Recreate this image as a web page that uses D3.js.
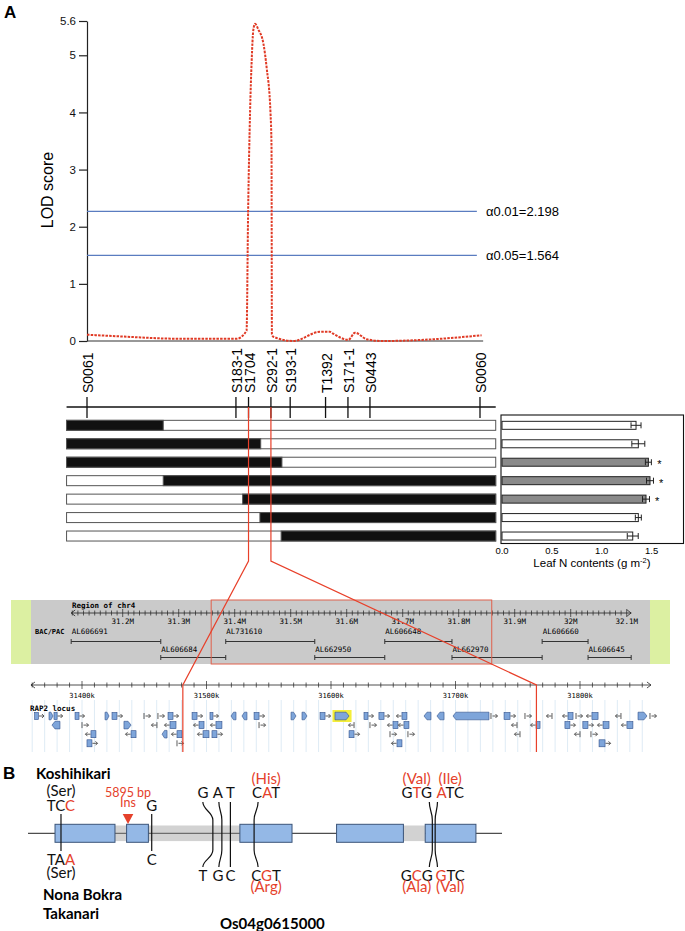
<!DOCTYPE html>
<html>
<head>
<meta charset="utf-8">
<script src="https://cdn.jsdelivr.net/npm/d3@7"></script>
<style>
  body { margin: 0; background: #fff; }
  svg { display: block; }
  .sans { font-family: "Liberation Sans", Arial, sans-serif; }
  .mono { font-family: "DejaVu Sans Mono", monospace; }
  .cal { font-family: Lato, "Open Sans", sans-serif; }
</style>
</head>
<body>
<svg width="685" height="931"></svg>
<script>
// ---- panel A : LOD profile ----
const lodTicks = [0, 1, 2, 3, 4, 5, 5.6]
const markerNames = ['S0061', 'S183-1', 'S1704', 'S292-1', 'S193-1', 'T1392', 'S171-1', 'S0443', 'S0060']
const markerPos = [0, 37.9, 41.1, 46.8, 51.7, 60.7, 66.4, 72.0, 100]
const lodPos = [0, 10.1, 22.8, 38.1, 40.6, 41.0, 41.5, 41.9, 42.3, 42.75, 43.6, 44.9, 45.7, 46.7, 46.95, 47.05, 47.4, 52.5, 59.3, 61.8, 62.6, 66.5, 68.2, 71.2, 75.3, 88.0, 100.4]
const lodVal = [0.11, 0.075, 0.04, 0.04, 0.18, 2.28, 4.03, 4.9, 5.43, 5.55, 5.45, 5.2, 4.79, 3.98, 3.4, 0.12, 0.075, 0.0, 0.16, 0.16, 0.13, 0.02, 0.145, 0.03, 0.0, 0.03, 0.1]
const thrVal = [2.27, 1.50]
const thrText = ['α0.01=2.198', 'α0.05=1.564']

// ---- graphical genotypes and leaf N ----
const leftBlack = [true, true, true, false, false, false, false]
const breakPos = [19.4, 44.2, 49.6, 19.4, 39.6, 44.0, 49.4]
const chromSpan = [-5.2, 104]
const leafN = [1.344, 1.367, 1.468, 1.484, 1.444, 1.367, 1.311]
const leafErr = [0.05, 0.065, 0.03, 0.035, 0.035, 0.03, 0.055]
const leafSig = [false, false, true, true, true, false, false]
const leafTicks = [0, 0.5, 1.0, 1.5]

// ---- chr4 region browser ----
const chrTicks = [31.2, 31.3, 31.4, 31.5, 31.6, 31.7, 31.8, 31.9, 32.0, 32.1]
const chrTickLabels = ['31.2M', '31.3M', '31.4M', '31.5M', '31.6M', '31.7M', '31.8M', '31.9M', '32M', '32.1M']
const chrSpan = [31.108, 32.108]
const bacNames = ['AL606691', 'AL606684', 'AL731610', 'AL662950', 'AL606648', 'AL662970', 'AL606660', 'AL606645']
const bacStart = [31.108, 31.268, 31.384, 31.543, 31.668, 31.788, 31.949, 32.031]
const bacEnd = [31.268, 31.384, 31.543, 31.668, 31.788, 31.949, 32.031, 32.108]
const bacRow = [0, 1, 0, 1, 0, 1, 0, 1]
const zoomBox = [31.358, 31.859]

// ---- RAP2 locus (kb) ----
const rapTicks = [31400, 31500, 31600, 31700, 31800]
const rapTickLabels = ['31400k', '31500k', '31600k', '31700k', '31800k']
const rapSpan = [31359, 31857]
const highlightGene = [31603.2, 31614.5]
// [start, end, row, strand, kind]  B=box, A=tiny, T=pointed
const rapGenes = [
  [31362, 31365, 0, 1, 'B'], [31373.5, 31376.7, 0, 1, 'T'], [31377.5, 31380, 0, 1, 'B'], [31394.4, 31397.6, 0, 1, 'B'],
  [31418.5, 31421.7, 0, 1, 'T'], [31424.1, 31428.1, 0, 1, 'B'], [31449.8, 31450.6, 0, 1, 'A'], [31461, 31461.8, 0, 1, 'A'],
  [31469.1, 31473.1, 0, 1, 'B'], [31488.4, 31492.4, 0, 1, 'B'], [31502.8, 31505.2, 0, 1, 'B'], [31519.7, 31523.7, 0, -1, 'T'],
  [31528.5, 31532.5, 0, -1, 'T'], [31538.2, 31542.2, 0, 1, 'B'], [31567.9, 31571.9, 0, 1, 'T'], [31576.7, 31580.7, 0, 1, 'T'],
  [31591.2, 31595.2, 0, 1, 'B'], [31603.2, 31614.5, 0, 1, 'T'], [31626.5, 31629.7, 0, 1, 'B'], [31638.5, 31642.6, 0, 1, 'B'],
  [31657, 31661, 0, -1, 'B'], [31674.7, 31680.3, 0, -1, 'T'], [31685.1, 31690.8, 0, -1, 'T'], [31698, 31726.9, 0, -1, 'T'],
  [31728.5, 31729.3, 0, 1, 'A'], [31739, 31743.8, 0, 1, 'B'], [31755.8, 31756.6, 0, 1, 'A'], [31777.5, 31778.3, 0, -1, 'A'],
  [31790.4, 31794.4, 0, -1, 'B'], [31796.8, 31797.6, 0, 1, 'A'], [31809.6, 31814.5, 0, -1, 'B'], [31832.9, 31833.7, 0, -1, 'A'],
  [31846.6, 31853.8, 0, 1, 'T'], [31856.2, 31857, 0, 1, 'A'],
  [31375.9, 31382.3, 1, -1, 'T'], [31400, 31400.8, 1, 1, 'A'], [31433.7, 31439.4, 1, 1, 'T'], [31460.2, 31461, 1, -1, 'A'],
  [31470.7, 31475.5, 1, -1, 'B'], [31494, 31498, 1, -1, 'B'], [31507.6, 31512.4, 1, -1, 'B'], [31542.2, 31543, 1, 1, 'A'],
  [31618.5, 31619.3, 1, -1, 'A'], [31631.3, 31632.1, 1, 1, 'A'], [31649.8, 31653.8, 1, -1, 'B'], [31658.6, 31662.6, 1, -1, 'B'],
  [31749.4, 31750.2, 1, -1, 'A'], [31764.7, 31767.9, 1, -1, 'B'], [31787.9, 31791.9, 1, 1, 'B'], [31802.3, 31806.4, 1, 1, 'B'],
  [31818.5, 31823.3, 1, -1, 'B'], [31837.7, 31842.5, 1, -1, 'B'],
  [31407.2, 31411.2, 2, -1, 'B'], [31439.4, 31443.4, 2, -1, 'B'], [31464.3, 31468.3, 2, -1, 'T'], [31476.3, 31480.3, 2, -1, 'B'],
  [31497.2, 31502, 2, -1, 'B'], [31504.4, 31508.4, 2, 1, 'B'], [31614.5, 31618.5, 2, 1, 'B'], [31647.4, 31648.2, 2, 1, 'A'],
  [31661.8, 31662.6, 2, 1, 'A'], [31751.8, 31752.6, 2, -1, 'A'], [31800, 31800.8, 2, -1, 'A'], [31808.8, 31809.6, 2, 1, 'A'],
  [31404, 31408, 3, 1, 'B'], [31476.3, 31477.1, 3, 1, 'A'], [31653, 31657, 3, -1, 'B'], [31815.3, 31820.1, 3, 1, 'B']
]
const redLinkMarker = ['S1704', 'S292-1']
const redLinkKb = [31481, 31765]

// ---- panel B : gene model (relative units 0-100) ----
const exonStart = [5.7, 20.8, 44.7, 65.1, 83.8]
const exonEnd = [18.35, 25.4, 55.7, 79.2, 94.5]
const grayStart = [18.35, 79.2]
const grayEnd = [44.7, 83.8]
const insPos = 21.1
const snpPos = [6.96, 26.1, 39.0, 40.9, 42.7, 47.7, 85.3, 85.9]
const snpTop = ['TCC', 'G', 'G', 'A', 'T', 'CAT', 'GTG', 'ATC']
const snpBot = ['TAA', 'C', 'T', 'G', 'C', 'CGT', 'GCG', 'GTC']
const snpRed = [2, -1, -1, -1, -1, 1, 1, 0]
const aaTop = ['(Ser)', '', '', '', '', '(His)', '(Val)', '(Ile)']
const aaBot = ['(Ser)', '', '', '', '', '(Arg)', '(Ala)', '(Val)']

// layout helpers for panel B text
const snpNear = [true, true, false, false, false, false, false, false]
const snpTextDx = [0, 0, -10, -4, 0, 12, -15.6, 15]
const snpBendDx = [0, 0, -10, -3, 0, 4, -3, 2.3]

const red = '#e5412b'
const svg = d3.select('svg')

// ================= LOD plot =================
const xMap = d3.scaleLinear().domain([0, 100]).range([87, 480])
const yLod = d3.scaleLinear().domain([0, 5.6]).range([341, 21])

const yAx = svg.append('g')
  .attr('transform', 'translate(87,0)')
  .call(d3.axisLeft(yLod).tickValues(lodTicks).tickFormat(d => String(d)).tickSize(8).tickSizeOuter(0))
yAx.selectAll('text').attr('class', 'sans').attr('font-size', 11.5).attr('fill', '#111')
yAx.selectAll('line, path').attr('stroke', '#222').attr('stroke-width', 1.2)

svg.append('line')
  .attr('x1', xMap(0)).attr('x2', xMap(100.8))
  .attr('y1', yLod(0)).attr('y2', yLod(0))
  .attr('stroke', '#333').attr('stroke-width', 1.2)

svg.append('text')
  .attr('class', 'sans')
  .attr('transform', 'translate(53,190) rotate(-90)')
  .attr('text-anchor', 'middle')
  .attr('font-size', 16)
  .text('LOD score')

thrVal.forEach((v, i) => {
  svg.append('line')
    .attr('x1', xMap(0)).attr('x2', xMap(99.2))
    .attr('y1', yLod(v)).attr('y2', yLod(v))
    .attr('stroke', '#5a7cc0').attr('stroke-width', 1.3)
  svg.append('text')
    .attr('class', 'sans')
    .attr('x', 486).attr('y', yLod(v) + 4.5)
    .attr('font-size', 13)
    .text(thrText[i])
})

const lodLine = d3.line()
  .x(d => xMap(d[0]))
  .y(d => yLod(d[1]))
  .curve(d3.curveMonotoneX)

svg.append('path')
  .datum(lodPos.map((p, i) => [p, lodVal[i]]))
  .attr('d', lodLine)
  .attr('fill', 'none')
  .attr('stroke', '#e03a25')
  .attr('stroke-width', 2)
  .attr('stroke-dasharray', '2.5,1.2')

// marker labels + map line
markerNames.forEach((m, i) => {
  svg.append('text')
    .attr('class', 'sans')
    .attr('transform', `translate(${xMap(markerPos[i]) + 6},393) rotate(-90)`)
    .attr('font-size', 14)
    .text(m)
  svg.append('line')
    .attr('x1', xMap(markerPos[i])).attr('x2', xMap(markerPos[i]))
    .attr('y1', 397).attr('y2', 418)
    .attr('stroke', '#111').attr('stroke-width', 1.3)
})
svg.append('line')
  .attr('x1', xMap(chromSpan[0])).attr('x2', xMap(chromSpan[1]))
  .attr('y1', 407).attr('y2', 407)
  .attr('stroke', '#111').attr('stroke-width', 1.6)

// graphical genotypes
const yRow = d3.scaleBand().domain(d3.range(7)).range([416.1, 545.25]).paddingInner(0.458).paddingOuter(0.229)

const rows = svg.selectAll('g.geno')
  .data(breakPos)
  .enter()
  .append('g')
  .attr('class', 'geno')

rows.append('rect')
  .attr('x', xMap(chromSpan[0]))
  .attr('y', (d, i) => yRow(i))
  .attr('width', xMap(chromSpan[1]) - xMap(chromSpan[0]))
  .attr('height', yRow.bandwidth())
  .attr('fill', '#fff')
  .attr('stroke', '#555')
  .attr('stroke-width', 1)

rows.append('rect')
  .attr('x', (d, i) => leftBlack[i] ? xMap(chromSpan[0]) : xMap(d))
  .attr('y', (d, i) => yRow(i))
  .attr('width', (d, i) => leftBlack[i] ? xMap(d) - xMap(chromSpan[0]) : xMap(chromSpan[1]) - xMap(d))
  .attr('height', yRow.bandwidth())
  .attr('fill', '#111')
  .attr('stroke', '#555')
  .attr('stroke-width', 1)

// leaf N bar chart
const xLeaf = d3.scaleLinear().domain([0, 1.82]).range([502, 683.5])
svg.append('rect')
  .attr('x', 501).attr('y', 415)
  .attr('width', 182.5).attr('height', 128.5)
  .attr('fill', 'none').attr('stroke', '#111').attr('stroke-width', 1.1)

const bars = svg.selectAll('g.leaf')
  .data(leafN)
  .enter()
  .append('g')
  .attr('class', 'leaf')
  .attr('transform', (d, i) => `translate(0, ${yRow(i) + 1})`)

bars.append('rect')
  .attr('x', xLeaf(0))
  .attr('y', 0)
  .attr('height', 8)
  .attr('width', d => xLeaf(d) - xLeaf(0))
  .attr('fill', (d, i) => leafSig[i] ? '#8a8a8a' : '#fff')
  .attr('stroke', '#222')
  .attr('stroke-width', 1)

bars.append('line')
  .attr('x1', (d, i) => xLeaf(d - leafErr[i]))
  .attr('x2', (d, i) => xLeaf(d + leafErr[i]))
  .attr('y1', 4).attr('y2', 4)
  .attr('stroke', '#222').attr('stroke-width', 1)
bars.append('path')
  .attr('d', (d, i) => {
    const a = xLeaf(d - leafErr[i]), b = xLeaf(d + leafErr[i])
    return `M${a},1V7M${b},1V7`
  })
  .attr('stroke', '#222').attr('stroke-width', 1)

bars.filter((d, i) => leafSig[i])
  .append('text')
  .attr('class', 'sans')
  .attr('x', (d, i) => xLeaf(d + 0.09))
  .attr('y', 10)
  .attr('font-size', 11)
  .text('*')

leafTicks.forEach(t => {
  svg.append('text')
    .attr('class', 'sans')
    .attr('x', xLeaf(t)).attr('y', 554)
    .attr('text-anchor', 'middle')
    .attr('font-size', 9.5)
    .text(d3.format('.1f')(t))
})
const lt = svg.append('text')
  .attr('class', 'sans')
  .attr('x', 592).attr('y', 567)
  .attr('text-anchor', 'middle')
  .attr('font-size', 11.5)
lt.append('tspan').text('Leaf N contents (g m')
lt.append('tspan').attr('dy', -4).attr('font-size', 7.5).text('-2')
lt.append('tspan').attr('dy', 4).text(')')

// ================= chr4 browser =================
const xChr = d3.scaleLinear().domain([31.2, 32.1]).range([122.7, 626.7])
svg.append('rect').attr('x', 11).attr('y', 600).attr('width', 659).attr('height', 64).attr('fill', '#dcf0a2')
svg.append('rect').attr('x', 31).attr('y', 600).attr('width', 619).attr('height', 64).attr('fill', '#cacaca')

svg.append('text').attr('class', 'mono').attr('x', 72).attr('y', 607.5)
  .attr('font-size', 7.5).attr('font-weight', 'bold').text('Region of chr4')

function ruler(scale, span, y, minor, major) {
  const g = svg.append('g')
  g.append('line').attr('x1', scale(span[0])).attr('x2', scale(span[1]))
    .attr('y1', y).attr('y2', y).attr('stroke', '#222').attr('stroke-width', 0.8)
  g.append('path')
    .attr('d', `M${scale(span[0]) + 4},${y - 3}L${scale(span[0])},${y}L${scale(span[0]) + 4},${y + 3}` +
      `M${scale(span[1]) - 4},${y - 3}L${scale(span[1])},${y}L${scale(span[1]) - 4},${y + 3}`)
    .attr('fill', 'none').attr('stroke', '#222').attr('stroke-width', 0.8)
  minor.forEach(v => {
    const isMajor = major.some(m => Math.abs(m - v) < 1e-6)
    g.append('line').attr('x1', scale(v)).attr('x2', scale(v))
      .attr('y1', y - (isMajor ? 4 : 2.5)).attr('y2', y + (isMajor ? 4 : 2.5))
      .attr('stroke', '#222').attr('stroke-width', 0.7)
  })
  return g
}

ruler(xChr, chrSpan, 613, d3.range(3111, 3211).map(d => d / 100), chrTicks)
chrTicks.forEach((t, i) => {
  svg.append('text').attr('class', 'mono').attr('x', xChr(t)).attr('y', 624)
    .attr('text-anchor', 'middle').attr('font-size', 7.5).text(chrTickLabels[i])
})

svg.append('text').attr('class', 'mono').attr('x', 35).attr('y', 634)
  .attr('font-size', 7).attr('font-weight', 'bold').text('BAC/PAC')

const bacLineY = [641.5, 657.5]
const bacTextY = [634, 651.5]
bacNames.forEach((n, i) => {
  const y = bacLineY[bacRow[i]]
  svg.append('text').attr('class', 'mono').attr('x', xChr(bacStart[i]) + 0.5).attr('y', bacTextY[bacRow[i]])
    .attr('font-size', 7.5).text(n)
  svg.append('path')
    .attr('d', `M${xChr(bacStart[i])},${y}H${xChr(bacEnd[i])}M${xChr(bacStart[i])},${y - 2.5}V${y + 2.5}M${xChr(bacEnd[i])},${y - 2.5}V${y + 2.5}`)
    .attr('stroke', '#333').attr('stroke-width', 1)
})

svg.append('rect')
  .attr('x', xChr(zoomBox[0])).attr('y', 600)
  .attr('width', xChr(zoomBox[1]) - xChr(zoomBox[0])).attr('height', 64)
  .attr('fill', 'none').attr('stroke', '#e0604c').attr('stroke-width', 1)

// ================= RAP2 locus =================
const xRap = d3.scaleLinear().domain([31400, 31800]).range([82, 580])
const rapMinor = d3.range(31360, 31857, 10)
rapMinor.forEach(v => {
  svg.append('line').attr('x1', xRap(v)).attr('x2', xRap(v)).attr('y1', 700).attr('y2', 752)
    .attr('stroke', '#d6e6f3').attr('stroke-width', 0.8)
})
ruler(xRap, rapSpan, 685, rapMinor, rapTicks)
rapTicks.forEach((t, i) => {
  svg.append('text').attr('class', 'mono').attr('x', xRap(t)).attr('y', 698)
    .attr('text-anchor', 'middle').attr('font-size', 7).text(rapTickLabels[i])
})
svg.append('text').attr('class', 'mono').attr('x', 30).attr('y', 711)
  .attr('font-size', 7.5).attr('font-weight', 'bold').text('RAP2 locus')

const rowY = r => 716 + r * 9.1
svg.append('rect')
  .attr('x', xRap(highlightGene[0]) - 2.5).attr('y', rowY(0) - 6)
  .attr('width', xRap(highlightGene[1]) - xRap(highlightGene[0]) + 5).attr('height', 12)
  .attr('fill', '#f4ee3a')

const geneFill = '#7ea5da', geneStroke = '#2f4f8a'
rapGenes.forEach(([s, e, r, st, k]) => {
  const cy = rowY(r), x0 = xRap(s), x1 = Math.max(xRap(e), x0 + 1)
  if (k === 'T') {
    const h = 3.8, tip = Math.min(3, (x1 - x0) * 0.5)
    const pts = st > 0
      ? [[x0, cy - h], [x1 - tip, cy - h], [x1, cy], [x1 - tip, cy + h], [x0, cy + h]]
      : [[x1, cy - h], [x0 + tip, cy - h], [x0, cy], [x0 + tip, cy + h], [x1, cy + h]]
    svg.append('path').attr('d', 'M' + pts.join('L') + 'Z')
      .attr('fill', geneFill).attr('stroke', geneStroke).attr('stroke-width', 0.6)
    return
  }
  if (k === 'B') {
    svg.append('rect').attr('x', x0).attr('y', cy - 3.5).attr('width', x1 - x0).attr('height', 7)
      .attr('fill', geneFill).attr('stroke', geneStroke).attr('stroke-width', 0.6)
  } else {
    svg.append('line').attr('x1', x0).attr('x2', x0).attr('y1', cy - 3).attr('y2', cy + 3)
      .attr('stroke', '#333').attr('stroke-width', 0.8)
  }
  const a = st > 0 ? x1 + 0.5 : x0 - 0.5
  const b = st > 0 ? a + 5 : a - 5
  const c = st > 0 ? b - 2 : b + 2
  svg.append('path').attr('d', `M${a},${cy}L${b},${cy}M${c},${cy - 2}L${b},${cy}L${c},${cy + 2}`)
    .attr('fill', 'none').attr('stroke', '#333').attr('stroke-width', 0.8)
})

// red connector lines
redLinkMarker.forEach((m, i) => {
  const xm = xMap(markerPos[markerNames.indexOf(m)])
  const xr = xRap(redLinkKb[i])
  svg.append('path')
    .attr('d', `M${xm},407L${xm},561L${xr},685L${xr},752`)
    .attr('fill', 'none').attr('stroke', '#e8402a').attr('stroke-width', 1.2)
})

// ================= panel B =================
const xGene = d3.scaleLinear().domain([0, 100]).range([28, 502])
const gy = 833.3

svg.append('line').attr('x1', xGene(0)).attr('x2', xGene(100)).attr('y1', gy).attr('y2', gy)
  .attr('stroke', '#222').attr('stroke-width', 1)
grayStart.forEach((s, i) => {
  svg.append('rect').attr('x', xGene(s)).attr('y', gy - 7.8)
    .attr('width', xGene(grayEnd[i]) - xGene(s)).attr('height', 15.6).attr('fill', '#d2d2d2')
})
svg.append('line').attr('x1', xGene(grayStart[0])).attr('x2', xGene(grayEnd[0])).attr('y1', gy).attr('y2', gy)
  .attr('stroke', '#333').attr('stroke-width', 0.8)
exonStart.forEach((s, i) => {
  svg.append('rect').attr('x', xGene(s)).attr('y', gy - 9)
    .attr('width', xGene(exonEnd[i]) - xGene(s)).attr('height', 18)
    .attr('fill', '#94b8e6').attr('stroke', '#3b5478').attr('stroke-width', 1)
})

function codon(x, y, str, redIdx, base, size) {
  const t = svg.append('text').attr('class', 'cal').attr('x', x).attr('y', y)
    .attr('text-anchor', 'middle').attr('font-size', size || 15)
  str.split('').forEach((c, i) => t.append('tspan').attr('fill', i === redIdx ? red : base).text(c))
}

snpPos.forEach((p, i) => {
  const xl = xGene(p)
  const xt = xl + snpTextDx[i]
  const xb = xl + snpBendDx[i]
  const aaColor = i === 0 ? '#111' : red
  if (snpNear[i]) {
    svg.append('line').attr('x1', xl).attr('x2', xl).attr('y1', 814).attr('y2', 851)
      .attr('stroke', '#111').attr('stroke-width', 1.2)
    codon(xt, 811, snpTop[i], snpRed[i], '#111')
    codon(xt, 864.5, snpBot[i], snpRed[i], '#111')
    if (aaTop[i]) codon(xt, 796, aaTop[i], -1, aaColor)
    if (aaBot[i]) codon(xt, 878, aaBot[i], -1, aaColor)
  } else {
    svg.append('path')
      .attr('d', `M${xb},802C${xb},810 ${xl},812 ${xl},820L${xl},850C${xl},858 ${xb},860 ${xb},867`)
      .attr('fill', 'none').attr('stroke', '#111').attr('stroke-width', 1.2)
    codon(xt, 798, snpTop[i], snpRed[i], '#111')
    codon(xt, 880.5, snpBot[i], snpRed[i], '#111')
    if (aaTop[i]) codon(xt, 784, aaTop[i], -1, aaColor)
    if (aaBot[i]) codon(xt, 892, aaBot[i], -1, aaColor)
  }
})

const xi = xGene(insPos)
svg.append('path').attr('d', `M${xi - 5.3},814L${xi + 5.3},814L${xi},824Z`).attr('fill', red)
codon(xi, 796.5, '5895 bp', -1, red, 12.5)
codon(xi, 806.5, 'Ins', -1, red, 12.5)

const boldLabel = (x, y, s) => svg.append('text').attr('class', 'cal').attr('x', x).attr('y', y)
  .attr('font-size', 15).attr('font-weight', 'bold').text(s)
boldLabel(36, 779, 'Koshihikari')
boldLabel(43, 900, 'Nona Bokra')
boldLabel(43, 918.5, 'Takanari')
boldLabel(220, 928.5, 'Os04g0615000')

svg.append('text').attr('class', 'sans').attr('x', 4).attr('y', 18)
  .attr('font-size', 17).attr('font-weight', 'bold').text('A')
svg.append('text').attr('class', 'sans').attr('x', 3).attr('y', 779)
  .attr('font-size', 17).attr('font-weight', 'bold').text('B')
</script>
</body>
</html>
